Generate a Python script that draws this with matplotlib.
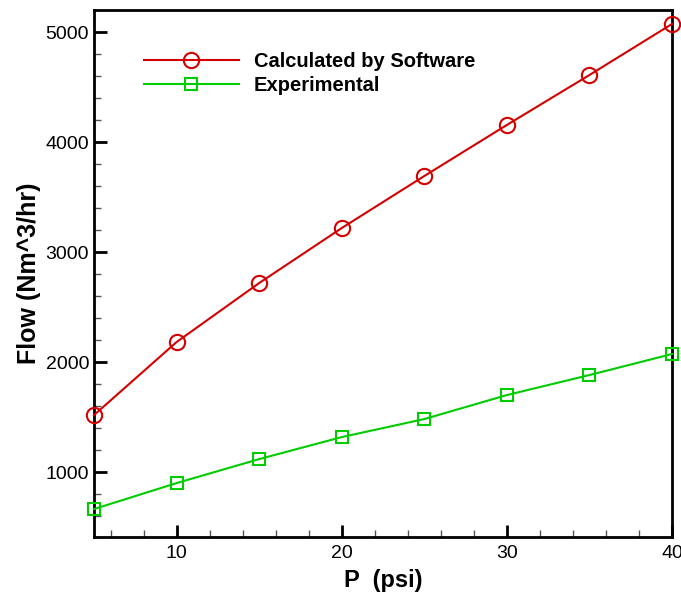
import matplotlib.pyplot as plt
from matplotlib.ticker import MultipleLocator

plt.rcParams['font.family'] = ['Liberation Sans', 'DejaVu Sans']

pressure = [5, 10, 15, 20, 25, 30, 35, 40]
flow_calc = [1518, 2182, 2718, 3218, 3691, 4155, 4609, 5073]
flow_exp = [664, 900, 1118, 1318, 1482, 1700, 1882, 2073]

RED = "#d40000"
GREEN = "#00cc00"

fig = plt.figure(figsize=(6.81, 5.97), dpi=100)
ax = fig.add_axes([94 / 681, 60 / 597, 578 / 681, 527 / 597])

ax.plot(pressure, flow_calc, color=RED, linewidth=1.5, marker="o", markersize=11,
        markerfacecolor="none", markeredgecolor=RED, markeredgewidth=1.5,
        label="Calculated by Software", clip_on=False, zorder=3)
ax.plot(pressure, flow_exp, color=GREEN, linewidth=1.5, marker="s", markersize=8,
        markerfacecolor="none", markeredgecolor=GREEN, markeredgewidth=1.5,
        label="Experimental", clip_on=False, zorder=3)

ax.set_xlim(5, 40)
ax.set_ylim(410, 5200)
ax.xaxis.set_major_locator(MultipleLocator(10))
ax.xaxis.set_minor_locator(MultipleLocator(2))
ax.yaxis.set_major_locator(MultipleLocator(1000))
ax.yaxis.set_minor_locator(MultipleLocator(200))
ax.set_xticks([10, 20, 30, 40])

ax.tick_params(which="major", direction="in", length=9, width=2, labelsize=14,
               top=False, right=False)
ax.tick_params(which="minor", direction="in", length=5, width=1, color="#555555",
               top=False, right=False)
ax.tick_params(axis="x", which="major", pad=6)
for s in ax.spines.values():
    s.set_linewidth(2)

ax.set_xlabel("P  (psi)", fontsize=17, fontweight="bold", labelpad=5)
ax.set_ylabel("Flow (Nm^3/hr)", fontsize=18, fontweight="bold", labelpad=3)

leg = ax.legend(loc="upper left", bbox_to_anchor=(0.0865, 0.92), frameon=False,
                borderaxespad=0, borderpad=0,
                handlelength=4.7, handletextpad=0.75, labelspacing=0.25,
                prop={"size": 14.5, "weight": "bold"})

fig.savefig("out.png", dpi=100)
